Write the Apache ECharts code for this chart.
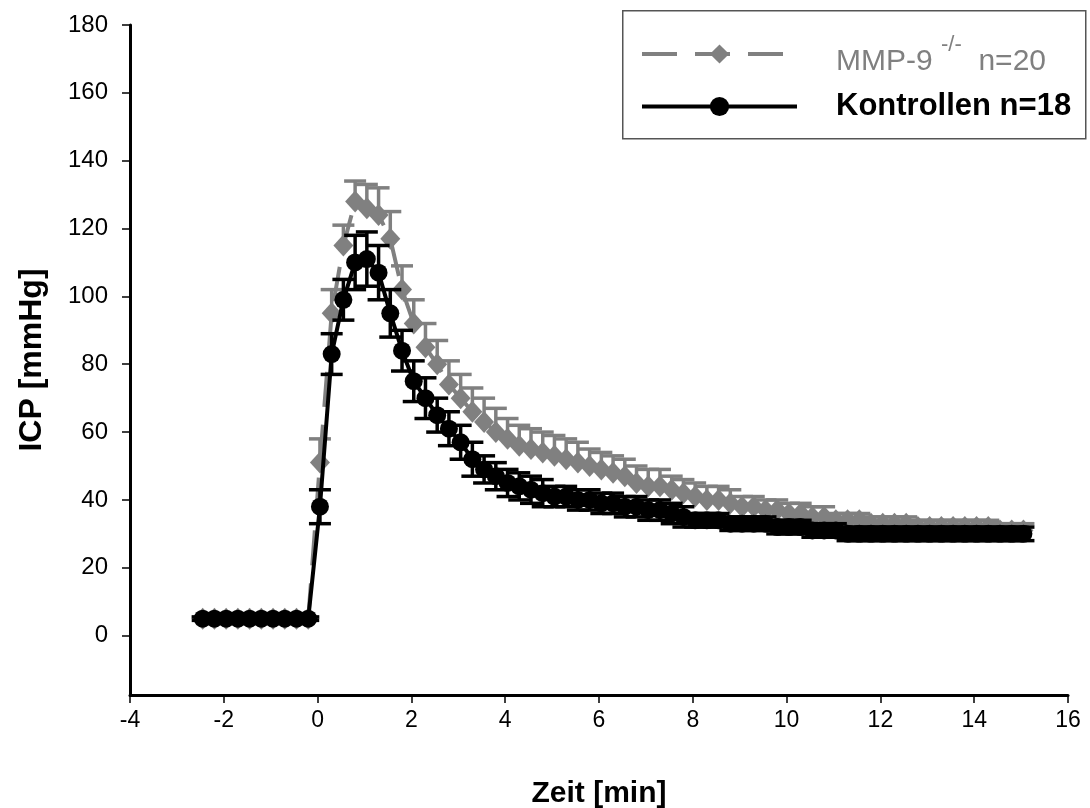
<!DOCTYPE html>
<html>
<head>
<meta charset="utf-8">
<script src="https://cdn.jsdelivr.net/npm/echarts@6/dist/echarts.min.js"></script>
<style>html,body{margin:0;padding:0;background:#fff}#c{width:1090px;height:808px}</style>
</head>
<body>
<div id="c"></div>
<script>
const times = [-2.45,-2.2,-1.95,-1.7,-1.45,-1.2,-0.95,-0.7,-0.45,-0.2,
  0.05,0.3,0.55,0.8,1.05,1.3,1.55,1.8,2.05,2.3,2.55,2.8,3.05,3.3,3.55,3.8,4.05,4.3,4.55,4.8,
  5.05,5.3,5.55,5.8,6.05,6.3,6.55,6.8,7.05,7.3,7.55,7.8,8.05,8.3,8.55,8.8,9.05,9.3,9.55,9.8,
  10.05,10.3,10.55,10.8,11.05,11.3,11.55,11.8,12.05,12.3,12.55,12.8,13.05,13.3,13.55,13.8,
  14.05,14.3,14.55,14.8,15.05];
const mmpValues = [5,5,5,5,5,5,5,5,5,5,
  51,95,115,128,126,124,117,102,92,85,
  80,74,70,66,63,60,58,56,55,54,
  53,52,51,50,49,48,47,45,44,44,
  43,42,41,40,40,39,38,38,37,37,
  36,36,35,35,34,34,34,33,33,33,
  33,32,32,32,32,32,32,32,31,31,31];
const mmpErr = [0.5,0.5,0.5,0.5,0.5,0.5,0.5,0.5,0.5,0.5,
  7,7,6,6,7,8,8,7,7,7,
  7,7,7,7,7,7,6,6,6,6,
  6,6,6,5,5,5,5,5,5,5,
  4,4,4,4,4,4,3,3,3,3,
  3,3,3,3,2,2,2,2,2,2,
  2,2,2,2,2,2,2,2,2,2,2];
const ctrlValues = [5,5,5,5,5,5,5,5,5,5,
  38,83,99,110,111,107,95,84,75,70,
  65,61,57,52,49,47,45,44,43,42,
  41,41,40,40,39,39,38,38,37,37,
  36,35,34,34,34,33,33,33,33,32,
  32,32,31,31,31,30,30,30,30,30,
  30,30,30,30,30,30,30,30,30,30,30];
const ctrlErr = [0.5,0.5,0.5,0.5,0.5,0.5,0.5,0.5,0.5,0.5,
  5,6,6,8,8,8,7,6,6,6,
  5,5,5,5,4,4,4,4,4,4,
  3,3,3,3,3,3,3,3,3,3,
  3,3,2,2,2,2,2,2,2,2,
  2,2,2,2,2,2,2,2,2,2,
  2,2,2,2,2,2,2,2,2,2,2];
const yTicks = [0,20,40,60,80,100,120,140,160,180];
const seriesNames = ['MMP-9 -/- n=20', 'Kontrollen n=18'];

const FONT = 'Liberation Sans, Arial, sans-serif';
const GRAY = '#808080';

const mmpLine = times.map((t,i)=>[t, mmpValues[i]]);
const ctrlLine = times.map((t,i)=>[t, ctrlValues[i]]);
const mmpBars = times.map((t,i)=>[t, mmpValues[i], mmpValues[i]+mmpErr[i]]);
const ctrlBars = times.map((t,i)=>[t, ctrlValues[i]-ctrlErr[i], ctrlValues[i]+ctrlErr[i]]);

function errRender(color, capTop, capBottom){
  return function(params, api){
    const x = api.value(0), lo = api.value(1), hi = api.value(2);
    const p1 = api.coord([x, lo]), p2 = api.coord([x, hi]);
    const hw = 11;
    const st = {stroke: color, lineWidth: 3.5};
    const ch = [{type:'line', shape:{x1:p1[0],y1:p1[1],x2:p2[0],y2:p2[1]}, style:st}];
    if (capTop) ch.push({type:'line', shape:{x1:p2[0]-hw,y1:p2[1],x2:p2[0]+hw,y2:p2[1]}, style:st});
    if (capBottom) ch.push({type:'line', shape:{x1:p1[0]-hw,y1:p1[1],x2:p1[0]+hw,y2:p1[1]}, style:st});
    return {type:'group', children: ch};
  };
}

const chart = echarts.init(document.getElementById('c'), null, {renderer:'canvas'});
chart.setOption({
  animation: false,
  backgroundColor: '#fff',
  grid: {left: 130, right: 22, top: 25, bottom: 113, containLabel: false, outerBoundsMode: 'none'},
  graphic: [{type:'rect', left: 622, top: 10, z: 0,
    shape:{width: 463, height: 128}, style:{fill:'#fff', stroke:'#555', lineWidth:1.5}}],
  legend: [
    {
      z: 10, left: 640, top: 34, orient: 'vertical', itemWidth: 155, itemHeight: 24, padding: 0,
      data: [{name: seriesNames[0]}],
      lineStyle: {width: 4},
      textStyle: {fontFamily: FONT, fontSize: 30, color: GRAY, padding: [16,0,0,34],
        rich: {
          a: {fontFamily: FONT, fontSize: 30, fontWeight: 'normal', color: GRAY},
          s: {fontFamily: FONT, fontSize: 22, fontWeight: 'normal', color: GRAY, padding: [0,0,34,0]}
        }},
      formatter: function(){ return '{a|MMP-9 }{s|-/-}{a|  n=20}'; }
    },
    {
      z: 10, left: 640, top: 91, orient: 'vertical', itemWidth: 155, itemHeight: 24, padding: 0,
      data: [{name: seriesNames[1]}],
      lineStyle: {width: 4},
      textStyle: {fontFamily: FONT, fontSize: 31, fontWeight: 'bold', color: '#000', padding: [0,0,0,34]}
    }
  ],
  xAxis: {
    type: 'value', min: -4, max: 16, interval: 2,
    name: 'Zeit [min]', nameLocation: 'middle', nameGap: 84,
    nameTextStyle: {fontFamily: FONT, fontSize: 30, fontWeight: 'bold', color: '#000'},
    axisLine: {onZero: false, lineStyle: {color: '#000', width: 3}},
    axisTick: {show: true, inside: false, length: 8, lineStyle: {color: '#000', width: 1.5}},
    axisLabel: {fontFamily: FONT, fontSize: 23, color: '#000', margin: 14},
    splitLine: {show: false}
  },
  yAxis: {
    type: 'value', min: -17.5, max: 180,
    name: 'ICP [mmHg]', nameLocation: 'middle', nameGap: 82, nameRotate: 90,
    nameTextStyle: {fontFamily: FONT, fontSize: 32, fontWeight: 'bold', color: '#000'},
    axisLine: {show: true, onZero: false, lineStyle: {color: '#000', width: 3}},
    axisTick: {show: true, length: 8, customValues: yTicks, lineStyle: {color: '#000', width: 1.5}},
    axisLabel: {fontFamily: FONT, fontSize: 24, color: '#000', margin: 22, customValues: yTicks},
    splitLine: {show: false}
  },
  series: [
    {type:'custom', name: seriesNames[0]+'_err', renderItem: errRender(GRAY, true, false),
      data: mmpBars, encode:{x:0, y:[1,2]}, z: 2, silent: true},
    {type:'line', name: seriesNames[0], data: mmpLine, z: 3,
      symbol: 'diamond', symbolSize: [20,22], showAllSymbol: true,
      lineStyle: {color: GRAY, width: 4, type: [35,18]},
      itemStyle: {color: GRAY, borderWidth: 0}},
    {type:'custom', name: seriesNames[1]+'_err', renderItem: errRender('#000', true, true),
      data: ctrlBars, encode:{x:0, y:[1,2]}, z: 4, silent: true},
    {type:'line', name: seriesNames[1], data: ctrlLine, z: 5,
      symbol: 'circle', symbolSize: 18, showAllSymbol: true,
      lineStyle: {color: '#000', width: 4},
      itemStyle: {color: '#000', borderWidth: 0}}
  ]
});
</script>
</body>
</html>
